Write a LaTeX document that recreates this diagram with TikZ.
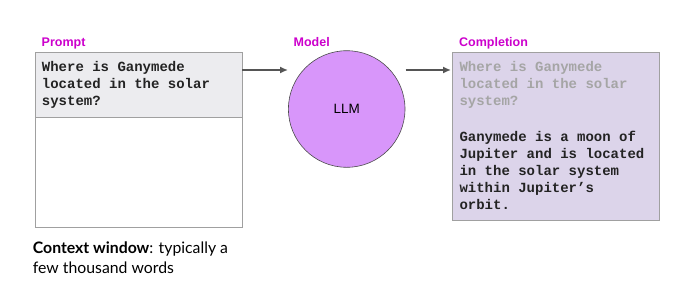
\documentclass[tikz,border=0pt]{standalone}
\usepackage{fontspec}
\setmainfont{Liberation Sans}
\newfontfamily\monof{Liberation Mono}
\newfontfamily\latof{Lato}
\usetikzlibrary{arrows.meta}
\definecolor{lbl}{RGB}{204,0,204}
\definecolor{hdr}{RGB}{236,236,239}
\definecolor{llmfill}{RGB}{216,150,250}
\definecolor{compfill}{RGB}{220,212,234}
\definecolor{boxline}{RGB}{160,160,160}
\definecolor{arr}{RGB}{85,85,85}
\definecolor{faint}{RGB}{165,165,165}
\definecolor{ink}{RGB}{35,35,35}
\tikzset{
  lab/.style={font=\fontsize{12.5}{14}\selectfont\bfseries, text=lbl, inner sep=0pt},
  box/.style={draw=boxline, line width=0.8pt, inner sep=0pt, anchor=north west},
  mono/.style={font=\monof\fontsize{14}{17}\selectfont\bfseries, inner sep=0pt, anchor=north west, align=left},
  flow/.style={draw=arr, line width=1.5pt, -{Latex[length=8pt,width=7pt]}}
}
\begin{document}
\begin{tikzpicture}[x=1pt,y=-1pt]
\useasboundingbox (0,0) rectangle (700,301);
% prompt
\node[box, minimum width=207.3pt, minimum height=175pt] (prompt) at (34.7,51.7) {};
\node[box, fill=hdr, minimum width=207.3pt, minimum height=65.6pt] (header) at (34.7,51.7) {};
\node[lab, anchor=base west] (plab) at (41.5,46) {Prompt};
\node[mono, text=ink] (ptext) at (41.7,61.5) {Where is Ganymede\\located in the solar\\system?};
% model
\node[circle, draw=black!70, line width=0.6pt, fill=llmfill, minimum size=116.6pt, inner sep=0pt] (llm) at (346.7,109) {\fontsize{13.5}{15}\selectfont LLM};
\node[lab, anchor=base] (mlab) at (311.7,46) {Model};
% completion
\node[box, fill=compfill, minimum width=207.6pt, minimum height=168.3pt] (comp) at (451.7,51.7) {};
\node[lab, anchor=base west] (clab) at (459,46) {Completion};
\node[mono, text=faint] (ctext1) at (459.3,61.5) {Where is Ganymede\\located in the solar\\system?};
\node[mono, text=ink] (ctext2) at (459.3,130.5) {Ganymede is a moon of\\Jupiter and is located\\in the solar system\\within Jupiter’s\\orbit.};
% arrows
\coordinate (a1s) at (242,70);
\coordinate (a1e) at (288,70);
\coordinate (a2s) at (405.7,70);
\coordinate (a2e) at (451,70);
\draw[flow] (a1s) -- (a1e);
\draw[flow] (a2s) -- (a2e);
% context
\node[inner sep=0pt, anchor=north west, align=left, font=\latof\fontsize{15.8}{20}\selectfont] (ctx) at (32.7,242) {\textbf{Context window}: typically a\\few thousand words};
\end{tikzpicture}
\end{document}
